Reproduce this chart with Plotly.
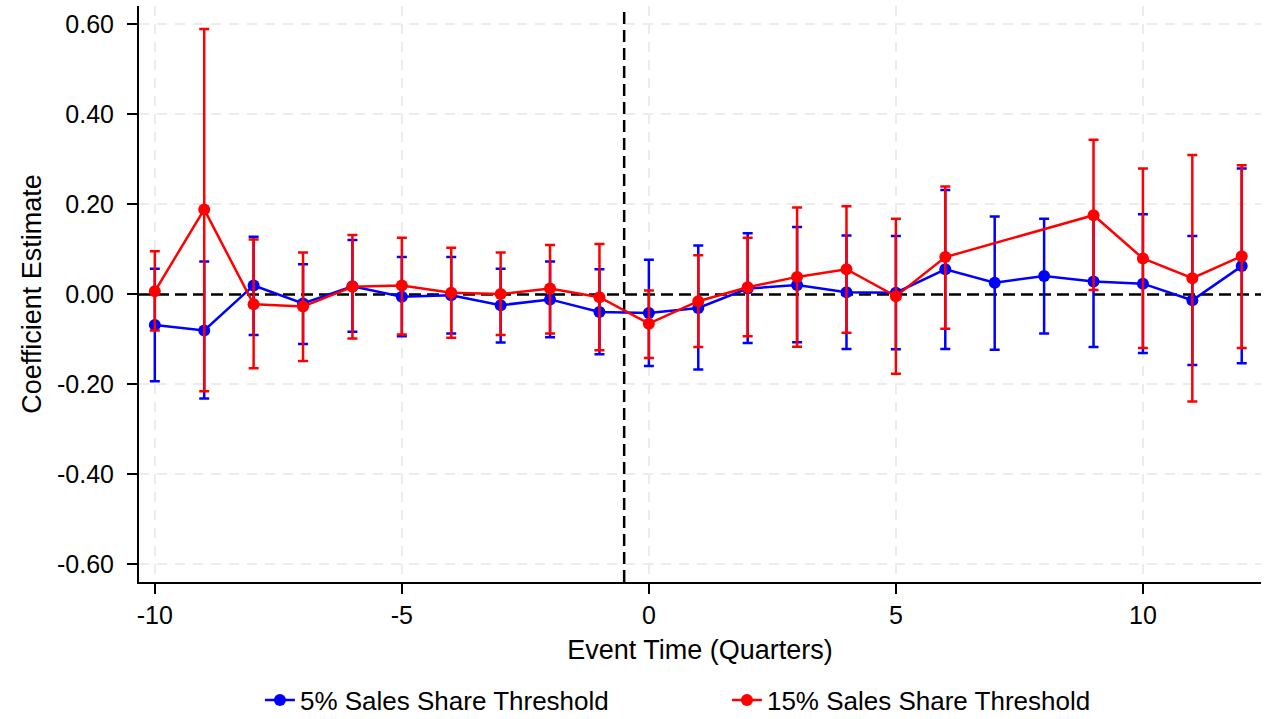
import plotly.graph_objects as go

event_time = [-10, -9, -8, -7, -6, -5, -4, -3, -2, -1, 0, 1, 2, 3, 4, 5, 6, 7, 8, 9, 10, 11, 12]

coef_5 = [-0.068, -0.080, 0.020, -0.020, 0.018, -0.005, -0.002, -0.024, -0.011, -0.039, -0.041, -0.030,
          0.013, 0.021, 0.005, 0.004, 0.056, 0.026, 0.041, 0.029, 0.024, -0.013, 0.063]
hi_5 = [0.057, 0.073, 0.128, 0.067, 0.121, 0.083, 0.083, 0.057, 0.073, 0.056, 0.077, 0.109,
        0.136, 0.150, 0.131, 0.130, 0.232, 0.173, 0.168, 0.175, 0.178, 0.130, 0.280]
lo_5 = [-0.193, -0.231, -0.090, -0.110, -0.083, -0.093, -0.087, -0.107, -0.095, -0.133, -0.159, -0.167,
        -0.108, -0.106, -0.121, -0.122, -0.121, -0.123, -0.087, -0.117, -0.130, -0.157, -0.153]

coef_15 = [0.007, 0.189, -0.022, -0.027, 0.017, 0.020, 0.004, 0.001, 0.013, -0.006, -0.065, -0.015,
           0.016, 0.039, 0.056, -0.004, 0.083, None, None, 0.176, 0.080, 0.036, 0.085]
hi_15 = [0.096, 0.590, 0.122, 0.093, 0.132, 0.126, 0.104, 0.093, 0.110, 0.112, 0.009, 0.087,
         0.126, 0.193, 0.196, 0.168, 0.240, None, None, 0.344, 0.280, 0.310, 0.287]
lo_15 = [-0.080, -0.215, -0.164, -0.148, -0.098, -0.089, -0.096, -0.090, -0.087, -0.124, -0.141, -0.117,
         -0.093, -0.116, -0.085, -0.176, -0.076, None, None, 0.010, -0.119, -0.238, -0.119]

y_ticks = [-0.6, -0.4, -0.2, 0.0, 0.2, 0.4, 0.6]
y_tick_labels = ["-0.60", "-0.40", "-0.20", "0.00", "0.20", "0.40", "0.60"]
x_ticks = [-10, -5, 0, 5, 10]
x_tick_labels = ["-10", "-5", "0", "5", "10"]

x_range = [-10.32, 12.39]
y_range = [-0.639, 0.641]
treatment_line = -0.5


def err(c, h, l):
    up = [None if v is None else hh - v for v, hh in zip(c, h)]
    dn = [None if v is None else v - ll for v, ll in zip(c, l)]
    return up, dn


up5, dn5 = err(coef_5, hi_5, lo_5)
up15, dn15 = err(coef_15, hi_15, lo_15)

FONT = "Liberation Sans, Arial, Helvetica, sans-serif"

fig = go.Figure()
fig.add_trace(go.Scatter(
    x=event_time, y=coef_5, mode="lines+markers", name="5% Sales Share Threshold",
    line=dict(color="#0000ff", width=2.5), marker=dict(color="#0000ff", size=12),
    error_y=dict(type="data", array=up5, arrayminus=dn5, color="#0000ff", thickness=2.5, width=5),
))
fig.add_trace(go.Scatter(
    x=event_time, y=coef_15, mode="lines+markers", name="15% Sales Share Threshold",
    connectgaps=True,
    line=dict(color="#ff0000", width=2.5), marker=dict(color="#ff0000", size=12),
    error_y=dict(type="data", array=up15, arrayminus=dn15, color="#ff0000", thickness=2.5, width=5),
))

fig.add_shape(type="line", xref="x", yref="y", x0=x_range[0], x1=x_range[1], y0=0, y1=0,
              line=dict(color="black", width=2.5, dash="12px,6px"), layer="between")
fig.add_shape(type="line", xref="x", yref="y", x0=treatment_line, x1=treatment_line,
              y0=y_range[0], y1=y_range[1],
              line=dict(color="black", width=2.5, dash="12px,6px"), layer="between")

fig.update_layout(
    width=1266, height=719,
    margin=dict(l=139, r=5, t=6, b=137, autoexpand=False),
    paper_bgcolor="white", plot_bgcolor="white",
    font=dict(family=FONT, size=27, color="black"),
    showlegend=True,
    legend=dict(orientation="h", x=0.524, xanchor="center", y=-0.205, yanchor="middle",
                font=dict(size=26), entrywidth=422, bgcolor="rgba(0,0,0,0)"),
    xaxis=dict(
        range=x_range, tickmode="array", tickvals=x_ticks, ticktext=x_tick_labels,
        showline=True, linecolor="black", linewidth=2, mirror=False,
        ticks="outside", ticklen=10, tickwidth=2, tickcolor="black",
        showgrid=True, gridcolor="#ececec", gridwidth=2, griddash="10px,8px",
        zeroline=False, tickfont=dict(size=25),
        title=dict(text="Event Time (Quarters)", font=dict(size=27), standoff=12),
    ),
    yaxis=dict(
        range=y_range, tickmode="array", tickvals=y_ticks, ticktext=y_tick_labels,
        showline=True, linecolor="black", linewidth=2, mirror=False,
        ticks="outside", ticklen=10, tickwidth=2, tickcolor="black",
        showgrid=True, gridcolor="#ececec", gridwidth=2, griddash="10px,8px",
        zeroline=False, tickfont=dict(size=25), ticklabelstandoff=8,
        title=dict(text="Coefficient Estimate", font=dict(size=27), standoff=8),
    ),
)

fig.write_html("out.html")
